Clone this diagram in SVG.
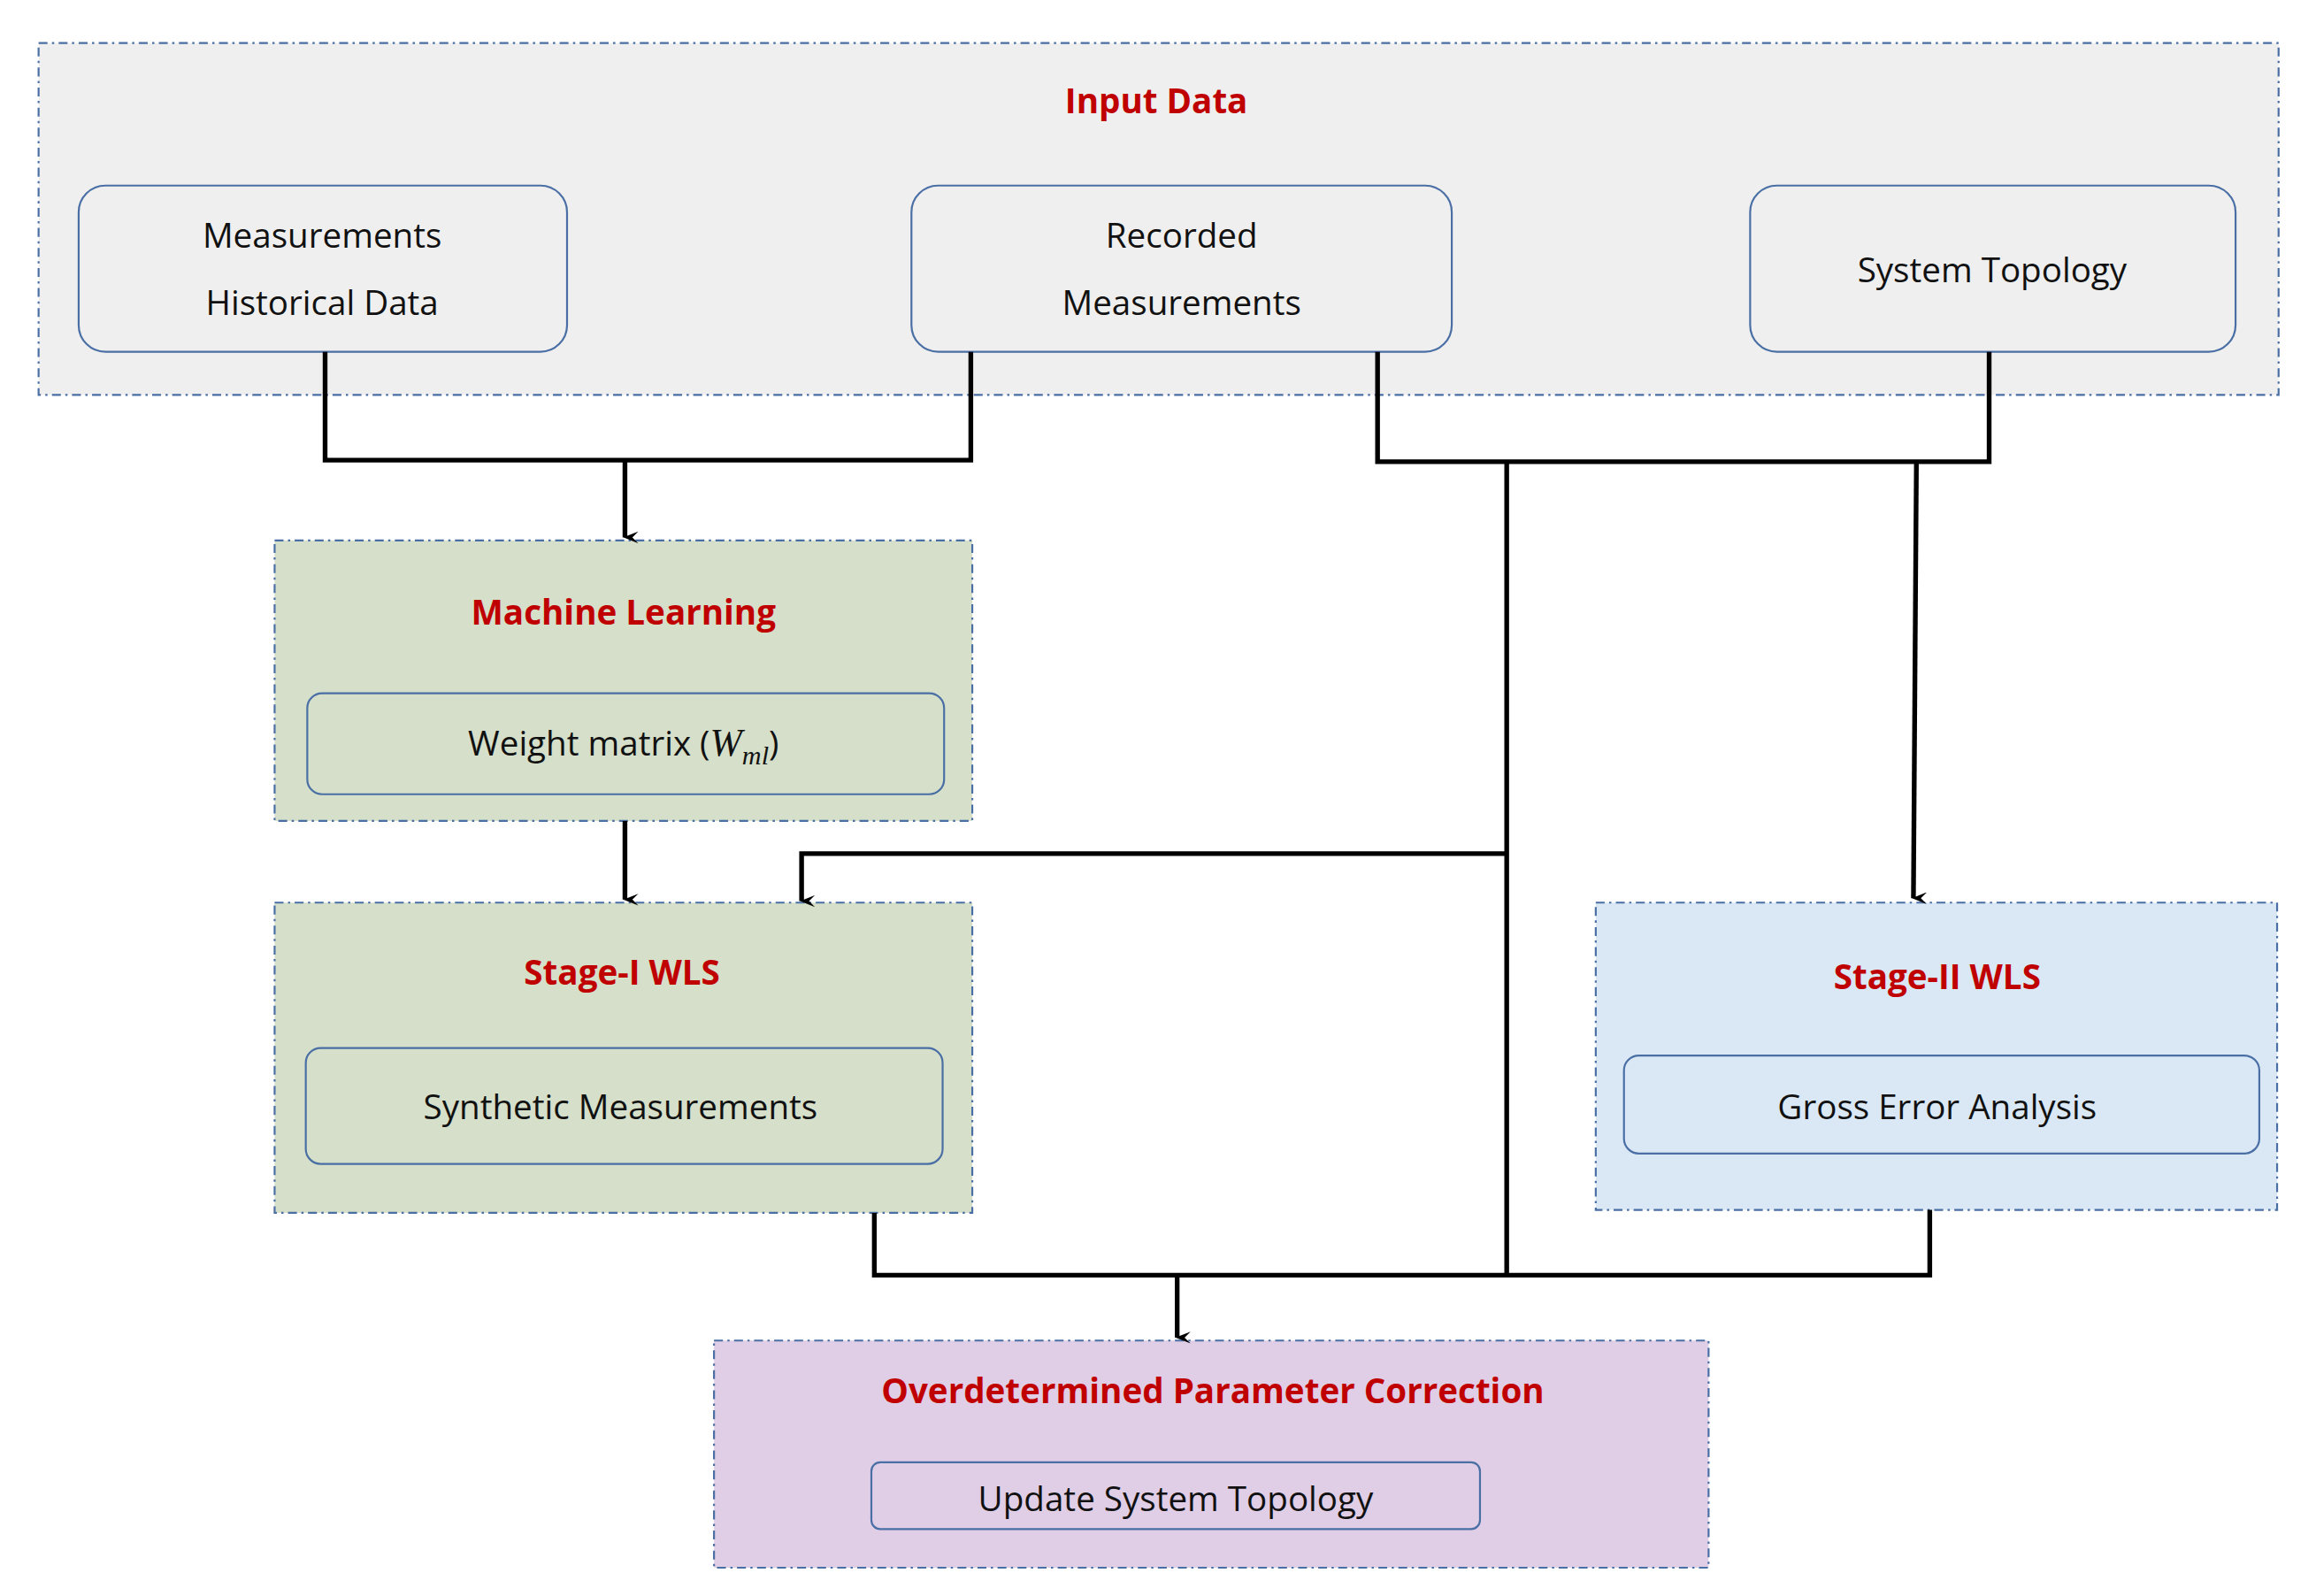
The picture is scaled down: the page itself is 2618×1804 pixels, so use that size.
<svg xmlns="http://www.w3.org/2000/svg" width="2618" height="1804" viewBox="0 0 2618 1804">
<style>
.grp{stroke:#4a6fa5;stroke-width:1.3;stroke-dasharray:6 3 1.5 3}
.nd{stroke:#4a6fa5;stroke-width:1.3}
.t{font-family:"Open Sans","Liberation Sans",sans-serif;font-size:23px;fill:#111;text-anchor:middle}
.h{font-family:"Open Sans","Liberation Sans",sans-serif;font-size:23px;font-weight:bold;fill:#c00000;text-anchor:middle}
.c{fill:none;stroke:#000;stroke-width:3.2}
</style>
<defs><marker id="a" markerWidth="8" markerHeight="10" refX="4" refY="9" orient="auto-start-reverse" markerUnits="userSpaceOnUse" viewBox="0 0 8 10"><path d="M0,0 L4,10 L8,0 L4,4 Z" fill="#000"/></marker></defs>
<rect width="2618" height="1804" fill="#fff"/>
<g transform="scale(1.678)">
<g id="input"><rect x="26" y="29" width="1509" height="237" fill="#efefef" class="grp"/><text x="779" y="76" class="h">Input Data</text></g>
<g id="n1"><rect x="53" y="125" width="329" height="112" rx="18" fill="#efefef" class="nd"/><text x="217" y="167" class="t">Measurements</text><text x="217" y="212" class="t">Historical Data</text></g>
<g id="n2"><rect x="614" y="125" width="364" height="112" rx="18" fill="#efefef" class="nd"/><text x="796" y="167" class="t">Recorded</text><text x="796" y="212" class="t">Measurements</text></g>
<g id="n3"><rect x="1179" y="125" width="327" height="112" rx="18" fill="#efefef" class="nd"/><text x="1342" y="190" class="t">System Topology</text></g>
<g id="ml"><rect x="185" y="364" width="470" height="189" fill="#d5dfc9" class="grp"/><text x="420" y="421" class="h">Machine Learning</text><rect x="207" y="467" width="429" height="68" rx="10" fill="#d5dfc9" class="nd"/><text x="420" y="509" class="t">Weight matrix (<tspan font-family="Liberation Serif,serif" font-style="italic" font-size="26">W</tspan><tspan font-family="Liberation Serif,serif" font-style="italic" font-size="18" dy="6">ml</tspan><tspan dy="-6">)</tspan></text></g>
<g id="s1"><rect x="185" y="608" width="470" height="209" fill="#d5dfc9" class="grp"/><text x="419" y="663" class="h">Stage-I WLS</text><rect x="206" y="706" width="429" height="78" rx="10" fill="#d5dfc9" class="nd"/><text x="418" y="754" class="t">Synthetic Measurements</text></g>
<g id="s2"><rect x="1075" y="608" width="459" height="207" fill="#dae8f5" class="grp"/><text x="1305" y="666" class="h">Stage-II WLS</text><rect x="1094" y="711" width="428" height="66" rx="10" fill="#dae8f5" class="nd"/><text x="1305" y="754" class="t">Gross Error Analysis</text></g>
<g id="opc"><rect x="481" y="903" width="670" height="153" fill="#e0cde6" class="grp"/><text x="817" y="945" class="h">Overdetermined Parameter Correction</text><rect x="587" y="985" width="410" height="45" rx="6" fill="#e0cde6" class="nd"/><text x="792" y="1018" class="t">Update System Topology</text></g>
<g id="connectors">
<path class="c" d="M219,237 V310 H654 V237"/>
<path class="c" d="M421,310 V362" marker-end="url(#a)"/>
<path class="c" d="M928,237 V311 H1340 V237"/>
<path class="c" d="M1015,311 V859"/>
<path class="c" d="M1291,311 L1289,605" marker-end="url(#a)"/>
<path class="c" d="M1015,575 H540 V607" marker-end="url(#a)"/>
<path class="c" d="M421,553 V606" marker-end="url(#a)"/>
<path class="c" d="M589,817 V859 H1300 V815"/>
<path class="c" d="M793,859 V901" marker-end="url(#a)"/>
</g>
</g>
</svg>
